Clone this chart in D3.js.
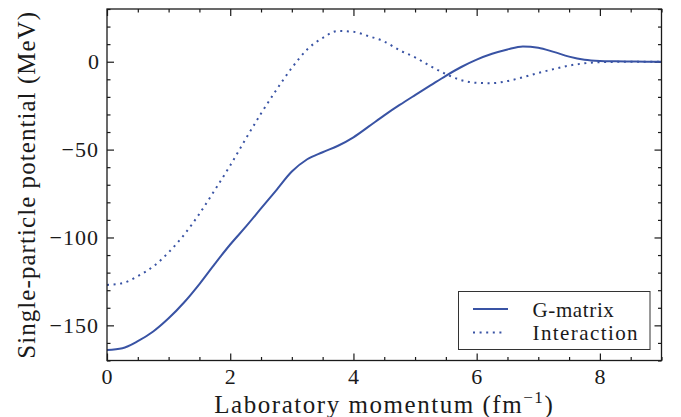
<!DOCTYPE html>
<html>
<head>
<meta charset="utf-8">
<script src="https://cdn.jsdelivr.net/npm/d3@7"></script>
<style>
  html, body { margin: 0; padding: 0; background: #fff; }
  svg { display: block; }
</style>
</head>
<body>
<svg id="chart" width="681" height="417"></svg>
<script>
// Laboratory momentum grid (fm^-1)
const momentum = [0, 0.25, 0.5, 0.75, 1, 1.25, 1.5, 1.75, 2, 2.25, 2.5, 2.75, 3, 3.25, 3.5, 3.75,
  4, 4.25, 4.5, 4.75, 5, 5.25, 5.5, 5.75, 6, 6.25, 6.5, 6.75, 7, 7.25, 7.5, 7.75, 8, 8.25, 8.5, 8.75, 9];

// Single-particle potential (MeV), G-matrix
const gMatrix = [-164, -163, -159, -153.5, -146, -137, -126.5, -115, -104, -94, -83.5, -73, -62.5, -55.5,
  -51.5, -47.8, -43, -36.8, -30.5, -24.6, -19, -13.5, -8, -3, 1.2, 4.5, 7, 8.7, 8.0, 5.6, 2.9, 1.1,
  0.4, 0.2, 0.1, 0, 0];

// Single-particle potential (MeV), bare interaction
const interaction = [-127, -126, -122, -116.5, -108.5, -98.5, -86.5, -73, -59, -44, -29.5, -16, -3.5, 7,
  13.5, 17.5, 17, 14.5, 11.5, 6.5, 2.5, -2.5, -7, -10.5, -12, -12.2, -11, -8.8, -6.4, -4.2, -2.2,
  -0.9, -0.3, -0.1, 0, 0, 0];

const xTicks = [0, 2, 4, 6, 8];
const yTicks = [-150, -100, -50, 0];
const seriesNames = ["G-matrix", "Interaction"];

const FONT = '"Liberation Serif", "Tinos", "Times New Roman", serif';

const W = 681, H = 417;
const margin = { left: 107, top: 9, right: 19.5, bottom: 56.5 };
const iw = W - margin.left - margin.right;
const ih = H - margin.top - margin.bottom;
const lineColor = "#3953a4";
const axisColor = "#1a1a1a";
const textColor = "#1a1a1a";

const svg = d3.select("#chart");
const g = svg.append("g").attr("transform", `translate(${margin.left},${margin.top})`);

const x = d3.scaleLinear().domain([0, 9]).range([0, iw]);
const y = d3.scaleLinear().domain([-170, 30]).range([ih, 0]);

const xMinor = d3.range(0, 9.001, 0.5).filter(v => !xTicks.includes(v));
const yMinor = d3.range(-170, 30.001, 10).filter(v => !yTicks.includes(v));

// Stretch a text's letter spacing so it spans a given width
function fitWidth(sel, target) {
  const node = sel.node();
  const n = node.textContent.length;
  const w = node.getComputedTextLength();
  sel.style("letter-spacing", `${(target - w) / n}px`);
}

// Serif text helper
function serifText(parent, size) {
  return parent.append("text")
    .attr("font-family", FONT).style("font-family", FONT)
    .attr("fill", textColor).style("font-size", `${size}px`);
}

// Tick marks point inward on all four sides
function tickLayer(axisGen, transform, values, size) {
  const a = g.append("g").attr("transform", transform)
    .call(axisGen.tickValues(values).tickSize(size).tickFormat(""));
  a.select(".domain").remove();
  a.selectAll("line").attr("stroke", axisColor).attr("stroke-width", 1.2);
  return a;
}
tickLayer(d3.axisBottom(x), `translate(0,${ih})`, xTicks, -7);
tickLayer(d3.axisBottom(x), `translate(0,${ih})`, xMinor, -3.5);
tickLayer(d3.axisTop(x), `translate(0,0)`, xTicks, -7);
tickLayer(d3.axisTop(x), `translate(0,0)`, xMinor, -3.5);
tickLayer(d3.axisLeft(y), `translate(0,0)`, yTicks, -7);
tickLayer(d3.axisLeft(y), `translate(0,0)`, yMinor, -3.5);
tickLayer(d3.axisRight(y), `translate(${iw},0)`, yTicks, -7);
tickLayer(d3.axisRight(y), `translate(${iw},0)`, yMinor, -3.5);

// Tick labels
const xLab = g.append("g");
xTicks.forEach(d => {
  serifText(xLab, 22)
    .attr("x", x(d)).attr("y", ih + 23)
    .attr("text-anchor", "middle")
    .text(d3.format("d")(d));
});

const yLab = g.append("g");
yTicks.forEach(d => {
  const t = serifText(yLab, 22)
    .attr("x", -8).attr("y", y(d)).attr("dy", "0.34em")
    .attr("text-anchor", "end")
    .text(d3.format("d")(d).replace("-", "\u2212"));
  if (d !== 0) fitWidth(t, d === -50 ? 37.5 : 49.5);
});

// Curves
const pts = vals => momentum.map((m, i) => [m, vals[i]]);
const line = d3.line().x(d => x(d[0])).y(d => y(d[1])).curve(d3.curveMonotoneX);

g.append("defs").append("clipPath").attr("id", "plotClip")
  .append("rect").attr("width", iw).attr("height", ih);

const curves = g.append("g").attr("clip-path", "url(#plotClip)");
curves.append("path").datum(pts(gMatrix))
  .attr("d", line).attr("fill", "none")
  .attr("stroke", lineColor).attr("stroke-width", 2);
curves.append("path").datum(pts(interaction))
  .attr("d", line).attr("fill", "none")
  .attr("stroke", lineColor).attr("stroke-width", 2)
  .attr("stroke-dasharray", "2,4.6");

// Frame
g.append("rect").attr("width", iw).attr("height", ih)
  .attr("fill", "none").attr("stroke", axisColor).attr("stroke-width", 1.3);

// Axis titles
const xTitle = serifText(svg, 25)
  .attr("x", margin.left + iw / 2).attr("y", 412.5)
  .attr("text-anchor", "middle");
xTitle.append("tspan").text("Laboratory momentum (fm");
xTitle.append("tspan").attr("dy", -10).style("font-size", "17px").text("\u22121");
xTitle.append("tspan").attr("dy", 10).text(")");
fitWidth(xTitle, 340);

const yTitle = serifText(svg, 25)
  .attr("transform", `translate(35,${margin.top + ih / 2}) rotate(-90)`)
  .attr("text-anchor", "middle")
  .text("Single-particle potential (MeV)");
fitWidth(yTitle, 348);

// Legend
const leg = svg.append("g");
leg.append("rect")
  .attr("x", 458.5).attr("y", 291.5).attr("width", 191.5).attr("height", 58)
  .attr("fill", "#fff").attr("stroke", "#333").attr("stroke-width", 1);
const rows = [
  { name: seriesNames[0], dash: null, ly: 309, ty: 317.3, w: 82 },
  { name: seriesNames[1], dash: "2,4.6", ly: 332.5, ty: 339.5, w: 106.5 }
];
rows.forEach(r => {
  leg.append("line")
    .attr("x1", 473).attr("x2", r.dash ? 504 : 508)
    .attr("y1", r.ly).attr("y2", r.ly)
    .attr("stroke", lineColor).attr("stroke-width", 2)
    .attr("stroke-dasharray", r.dash);
  const t = serifText(leg, 21)
    .attr("x", 532.5).attr("y", r.ty)
    .text(r.name);
  fitWidth(t, r.w);
});
</script>
</body>
</html>
